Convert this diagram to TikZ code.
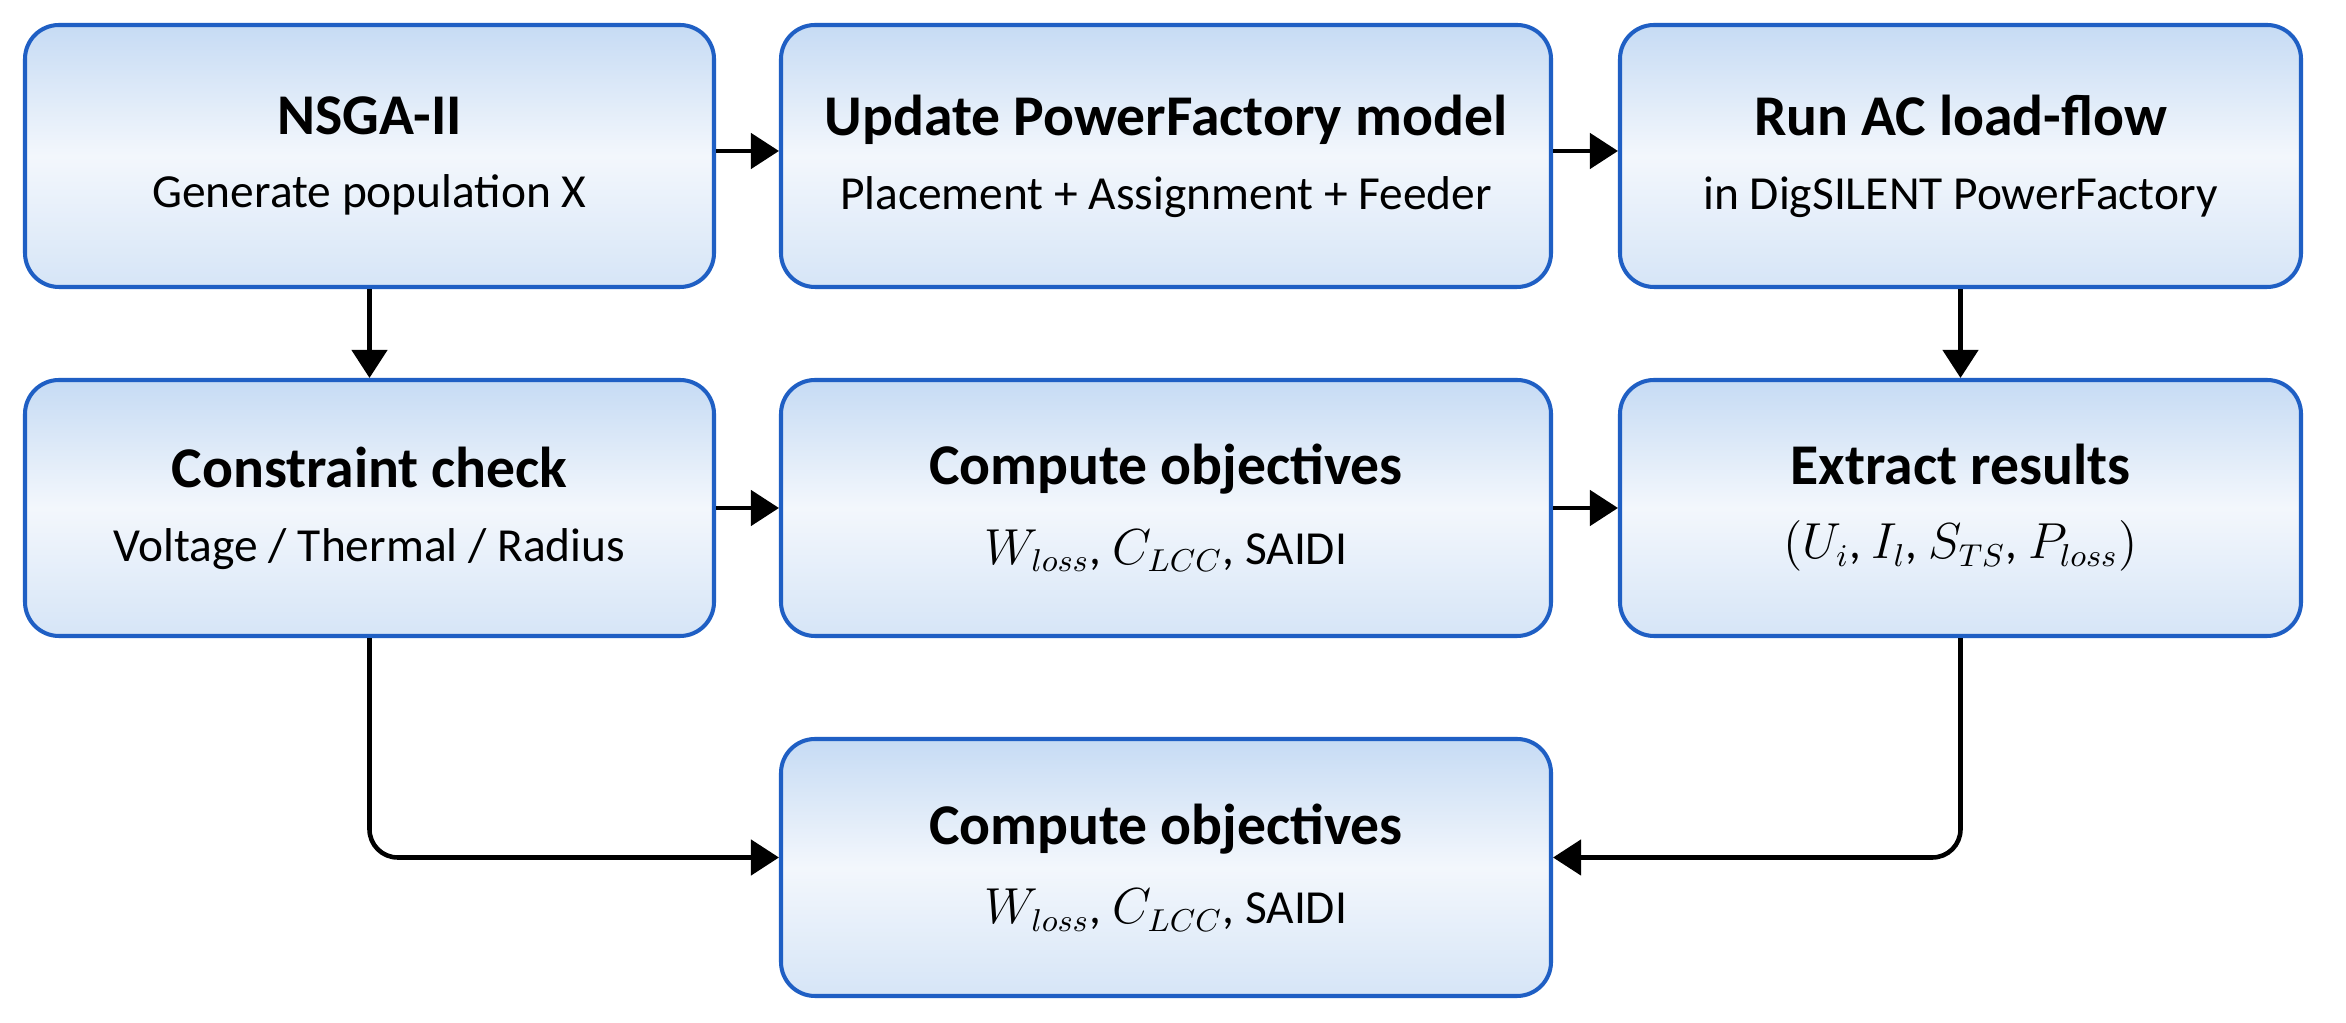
\documentclass[tikz,border=0pt]{standalone}
\usepackage{fontspec}
\setmainfont{Carlito}
\usetikzlibrary{arrows.meta,calc}
\definecolor{boxborder}{HTML}{1F5FC4}
\definecolor{boxtop}{HTML}{C6DBF4}
\definecolor{boxmid}{HTML}{F3F7FC}
\definecolor{boxbot}{HTML}{D6E5F7}
\tikzset{
  procbox/.style={draw=boxborder, line width=1.15pt, rounded corners=0.34cm,
    top color=boxtop, bottom color=boxbot, middle color=boxmid,
    align=center, inner sep=0pt, text=black},
  arr/.style={draw=black, line width=1.3pt, -{Triangle[length=8pt,width=10pt]}},
}
\newcommand{\ttl}[1]{{\fontsize{16.4pt}{19pt}\selectfont\bfseries #1}}
\newcommand{\sub}[1]{{\fontsize{13.5pt}{16pt}\selectfont #1}}
\begin{document}
\begin{tikzpicture}
\useasboundingbox[fill=white] (0,0) rectangle (23.46,-10.23);
\node[procbox, minimum width=6.89cm, minimum height=2.62cm] (b1) at (3.695,-1.56)
  {\ttl{NSGA-II}\\[9pt]\sub{Generate population X}};
\node[procbox, minimum width=7.70cm, minimum height=2.62cm] (b2) at (11.66,-1.56)
  {\ttl{Update PowerFactory model}\\[9pt]\sub{Placement + Assignment + Feeder}};
\node[procbox, minimum width=6.81cm, minimum height=2.62cm] (b3) at (19.605,-1.56)
  {\ttl{Run AC load-flow}\\[9pt]\sub{in DigSILENT PowerFactory}};
\node[procbox, minimum width=6.89cm, minimum height=2.56cm] (b4) at (3.695,-5.08)
  {\ttl{Constraint check}\\[9pt]\sub{Voltage / Thermal / Radius}};
\node[procbox, minimum width=7.70cm, minimum height=2.56cm] (b5) at (11.66,-5.08)
  {\ttl{Compute objectives}\\[9pt]\sub{$W_{loss}$, $C_{LCC}$, SAIDI}};
\node[procbox, minimum width=6.81cm, minimum height=2.56cm] (b6) at (19.605,-5.08)
  {\ttl{Extract results}\\[9pt]\sub{$(U_i$, $I_l$, $S_{TS}$, $P_{loss})$}};
\node[procbox, minimum width=7.70cm, minimum height=2.57cm] (b7) at (11.66,-8.675)
  {\ttl{Compute objectives}\\[9pt]\sub{$W_{loss}$, $C_{LCC}$, SAIDI}};
\draw[arr] ([yshift=0.05cm]b1.east) -- ([yshift=0.05cm]b2.west);
\draw[arr] ([yshift=0.05cm]b2.east) -- ([yshift=0.05cm]b3.west);
\draw[arr] (b1.south) -- (b4.north);
\draw[arr] (b3.south) -- (b6.north);
\draw[arr] (b4.east) -- (b5.west);
\draw[arr] (b5.east) -- (b6.west);
\draw[arr, rounded corners=8pt] (b4.south) |- ([yshift=0.1cm]b7.west);
\draw[arr, rounded corners=8pt] (b6.south) |- ([yshift=0.1cm]b7.east);
\end{tikzpicture}
\end{document}
